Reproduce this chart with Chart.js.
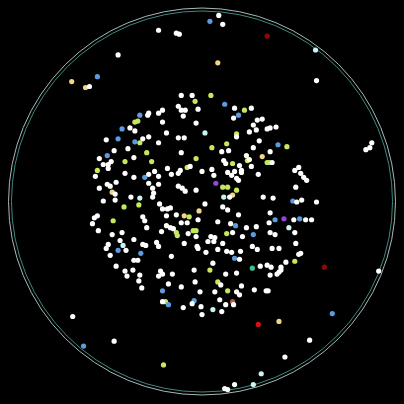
<!DOCTYPE html>
<html>
<head>
<meta charset="utf-8">
<script src="https://cdn.jsdelivr.net/npm/chart.js@4/dist/chart.umd.min.js"></script>
<style>
html,body{margin:0;padding:0;background:#000;}
canvas{display:block;}
</style>
</head>
<body>
<canvas id="c" width="404" height="404"></canvas>
<script>
// Data space: x 0..404, y 0..404 (y grows downward)
const whitePoints = [
[117,53],[88,85],[129,127],[134,130],[219,13],[223,22],[158,28],[176,31],[179,32],
[181,94],[192,94],[198,108],[235,107],[252,107],[234,117],[258,119],[263,118],[178,105],[181,109],[185,109],[183,115],
[162,109],[158,112],[148,112],[147,114],[162,121],[196,122],[254,124],[250,131],[268,128],[166,132],[257,129],
[318,79],[271,127],[277,126],
[105,139],[113,150],[127,148],[98,158],[110,161],[102,164],[107,168],[107,164],[133,157],[94,176],[124,173],[133,177],
[115,182],[106,184],[109,186],[98,188],[114,194],[130,197],[102,201],[114,200],[93,218],[96,216],[91,224],[97,231],
[111,235],[121,233],[133,240],[119,241],[107,245],[105,249],[125,251],[109,256],[133,261],[115,267],
[142,138],[148,136],[158,142],[178,137],[184,137],[237,136],[260,140],[254,147],[181,152],[222,151],[229,150],
[224,160],[226,163],[240,165],[242,170],[247,155],[250,159],[252,166],[167,168],[190,166],[180,170],[178,173],[171,174],
[202,171],[212,169],[214,175],[228,172],[232,175],[235,171],[242,172],[239,180],[237,178],[259,174],[154,171],[158,176],
[148,174],[148,183],[158,184],[178,186],[182,188],[185,191],[196,190],[152,188],[152,197],[153,193],[230,197],[264,197],
[159,204],[162,209],[167,209],[170,208],[205,204],[223,207],[228,210],[142,217],[144,221],[166,216],[176,215],[181,223],
[187,223],[198,220],[218,222],[239,215],[231,224],[247,228],[257,227],[146,228],[166,226],[170,228],[173,229],[161,232],
[188,234],[211,237],[215,238],[214,242],[233,233],[243,237],[196,237],[208,242],[223,244],[142,245],[145,246],[158,247],
[156,243],[184,244],[197,247],[198,249],[206,253],[218,250],[227,252],[232,253],[241,252],[253,247],[258,250],[171,257],
[240,260],[213,264],[261,267],[268,266],[137,261],
[271,151],[273,162],[296,170],[300,167],[302,173],[305,177],[308,180],[297,187],[368,149],[372,147],[374,142],[274,198],
[298,202],[303,200],[318,202],[271,213],[295,220],[307,220],[313,220],[270,223],[271,233],[276,235],[296,233],[297,244],
[273,249],[280,249],[300,255],[302,254],[287,263],[282,268],[272,268],
[124,272],[126,277],[132,271],[71,318],[113,343],
[139,276],[138,282],[141,289],[160,272],[162,275],[158,277],[172,275],[194,271],[226,275],[237,274],[168,285],[181,288],
[195,283],[221,286],[242,287],[200,293],[215,293],[237,293],[240,296],[255,291],[267,292],[162,303],[192,305],[183,309],
[201,308],[220,301],[234,306],[226,306],[222,313],[202,316],[235,387],[225,391],[228,392],
[381,272],[280,273],[278,275],[282,271],[271,276],[269,292],[311,342],[286,359]
];
const bluePoints = [
[96,75],[121,128],[210,19],[225,103],[239,114],[139,114],[117,138],[134,141],[106,155],[117,251],[144,177],[236,226],
[254,235],[140,254],[235,259],[279,144],[294,201],[276,220],[301,219],[82,348],[162,292],[168,306],[194,302],[334,315]
];
const greenPoints = [
[134,121],[211,94],[195,100],[245,109],[137,120],[237,133],[124,161],[96,170],[123,207],[112,221],[139,142],[212,147],
[227,143],[146,152],[151,161],[196,158],[233,163],[268,162],[248,160],[187,167],[223,187],[228,187],[237,190],[138,205],
[189,217],[176,233],[177,236],[193,231],[196,231],[227,234],[288,146],[270,162],[296,262],[210,271],[218,283],[228,292],
[165,303],[163,367]
];
const beigePoints = [[70,80],[84,86],[218,61],[111,192],[263,156],[233,195],[184,216],[199,211],[280,323]];
const cyanPoints = [[317,48],[205,132],[122,246],[139,198],[224,197],[290,228],[213,311],[262,376],[254,387]];
const purplePoints = [[216,183],[285,219]];
const darkRedPoints = [[268,34],[326,268]];
const redPoints = [[259,326]];
const brownPoints = [[233,303]];
const tealPoints = [[253,269]];

const ringCenter = [202, 201.5];
const ringRadii = [196, 193];
const ringColors = ['#aab8b8', '#3f8a80'];

function toXY(arr){ return arr.map(p => ({x:p[0], y:p[1]})); }
function ds(arr, color){
  return {data: toXY(arr), backgroundColor: color, borderWidth: 0, pointRadius: 2.6, pointHoverRadius: 2.6, clip: false};
}

const ringPlugin = {
  id: 'ring',
  beforeDraw(chart){
    const c = chart.ctx;
    c.save(); c.fillStyle = '#000'; c.fillRect(0,0,chart.width,chart.height); c.restore();
  },
  beforeDatasetsDraw(chart){
    const c = chart.ctx, sx = chart.scales.x, sy = chart.scales.y;
    const cx = sx.getPixelForValue(ringCenter[0]);
    const cy = sy.getPixelForValue(ringCenter[1]);
    ringRadii.forEach((r, i) => {
      const rp = Math.abs(sx.getPixelForValue(ringCenter[0] + r) - cx);
      c.save();
      c.beginPath();
      c.arc(cx, cy, rp, 0, Math.PI * 2);
      c.strokeStyle = ringColors[i];
      c.lineWidth = 1;
      c.stroke();
      c.restore();
    });
  }
};

new Chart(document.getElementById('c'), {
  type: 'scatter',
  data: {
    datasets: [
      ds(whitePoints, '#ffffff'),
      ds(bluePoints, '#5b9be0'),
      ds(greenPoints, '#c6e85c'),
      ds(beigePoints, '#f0d488'),
      ds(cyanPoints, '#c8f4f4'),
      ds(purplePoints, '#9444e0'),
      ds(darkRedPoints, '#8a0808'),
      ds(redPoints, '#d81010'),
      ds(brownPoints, '#a06048'),
      ds(tealPoints, '#40c090')
    ]
  },
  options: {
    responsive: false,
    devicePixelRatio: 1,
    animation: false,
    layout: {padding: 0},
    plugins: {legend: {display: false}, tooltip: {enabled: false}},
    scales: {
      x: {type: 'linear', min: 0, max: 404, display: false},
      y: {type: 'linear', min: 0, max: 404, reverse: true, display: false}
    }
  },
  plugins: [ringPlugin]
});
</script>
</body>
</html>
